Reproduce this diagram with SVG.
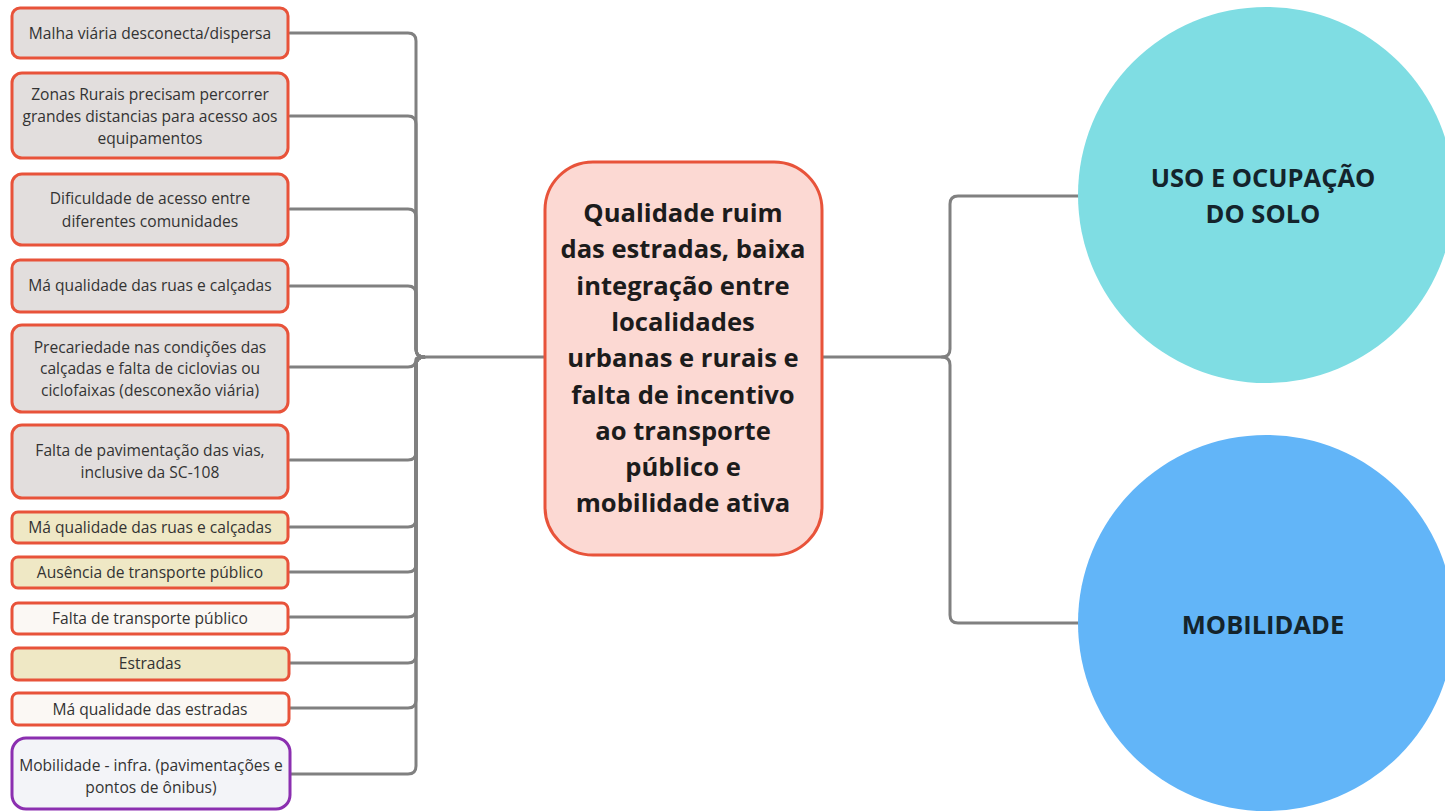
<svg xmlns="http://www.w3.org/2000/svg" width="1445" height="811" viewBox="0 0 1445 811">
<style>
.bx{stroke:#e8533a;stroke-width:3}
.g{fill:#e2dedd}
.y{fill:#efe8c5}
.w{fill:#fbf8f4}
.p{fill:#f3f4f8;stroke:#8b2fb0;stroke-width:3}
.t{font-family:"Open Sans","Liberation Sans",sans-serif;font-size:15.6px;fill:#333;text-anchor:middle}
.ct{font-family:"Open Sans","Liberation Sans",sans-serif;font-size:25.6px;font-weight:bold;fill:#1c1c1c;text-anchor:middle}
.ci{font-family:"Open Sans","Liberation Sans",sans-serif;font-size:25.5px;font-weight:bold;fill:#14242c;text-anchor:middle}
.c{fill:none;stroke:#808080;stroke-width:3;stroke-linecap:round;stroke-linejoin:round}
</style>
<rect width="1445" height="811" fill="#ffffff"/>
<g id="connectors">
<path class="c" d="M290 33H408Q416 33 416 41V349Q416 357 424 357H545"/>
<path class="c" d="M290 116H408Q416 116 416 124V349Q416 357 424 357"/>
<path class="c" d="M290 209H408Q416 209 416 217V349Q416 357 424 357"/>
<path class="c" d="M290 286H408Q416 286 416 294V349Q416 357 424 357"/>
<path class="c" d="M290 367H408Q416 367 416 359Q416 357 424 357"/>
<path class="c" d="M290 460H408Q416 460 416 452V365Q416 357 424 357"/>
<path class="c" d="M290 527H408Q416 527 416 519V365Q416 357 424 357"/>
<path class="c" d="M290 572H408Q416 572 416 564V365Q416 357 424 357"/>
<path class="c" d="M290 617H408Q416 617 416 609V365Q416 357 424 357"/>
<path class="c" d="M290 663H408Q416 663 416 655V365Q416 357 424 357"/>
<path class="c" d="M290 708H408Q416 708 416 700V365Q416 357 424 357"/>
<path class="c" d="M290 774H408Q416 774 416 766V365Q416 357 424 357"/>
<path class="c" d="M822 357H942Q950 357 950 349V204Q950 196 958 196H1078"/>
<path class="c" d="M942 357Q950 357 950 365V615Q950 623 958 623H1078"/>
</g>
<g id="n1"><rect class="bx g" x="12" y="8" width="276" height="50" rx="8"/><text class="t" x="150" y="38.5">Malha viária desconecta/dispersa</text></g>
<g id="n2"><rect class="bx g" x="12" y="73" width="276" height="85" rx="10"/><text class="t" x="150" y="99.5">Zonas Rurais precisam percorrer</text><text class="t" x="150" y="121.5">grandes distancias para acesso aos</text><text class="t" x="150" y="143.5">equipamentos</text></g>
<g id="n3"><rect class="bx g" x="12" y="174" width="276" height="71" rx="10"/><text class="t" x="150" y="203.5">Dificuldade de acesso entre</text><text class="t" x="150" y="226.5">diferentes comunidades</text></g>
<g id="n4"><rect class="bx g" x="12" y="260" width="276" height="52" rx="8"/><text class="t" x="150" y="291">Má qualidade das ruas e calçadas</text></g>
<g id="n5"><rect class="bx g" x="12" y="325" width="276" height="87" rx="10"/><text class="t" x="150" y="352.5">Precariedade nas condições das</text><text class="t" x="150" y="374">calçadas e falta de ciclovias ou</text><text class="t" x="150" y="395.5">ciclofaixas (desconexão viária)</text></g>
<g id="n6"><rect class="bx g" x="12" y="425" width="276" height="73" rx="10"/><text class="t" x="150" y="455.5">Falta de pavimentação das vias,</text><text class="t" x="150" y="477.5">inclusive da SC-108</text></g>
<g id="n7"><rect class="bx y" x="12" y="512" width="276" height="31" rx="6"/><text class="t" x="150" y="532.5">Má qualidade das ruas e calçadas</text></g>
<g id="n8"><rect class="bx y" x="12" y="557" width="276" height="31" rx="6"/><text class="t" x="150" y="578">Ausência de transporte público</text></g>
<g id="n9"><rect class="bx w" x="12" y="603" width="276" height="31" rx="6"/><text class="t" x="150" y="623.5">Falta de transporte público</text></g>
<g id="n10"><rect class="bx y" x="12" y="648" width="277" height="32" rx="6"/><text class="t" x="150" y="669">Estradas</text></g>
<g id="n11"><rect class="bx w" x="12" y="693" width="277" height="32" rx="6"/><text class="t" x="150" y="714.5">Má qualidade das estradas</text></g>
<g id="n12"><rect class="p" x="12" y="738" width="278" height="71" rx="14"/><text class="t" x="151" y="770.5">Mobilidade - infra. (pavimentações e</text><text class="t" x="151" y="792.5">pontos de ônibus)</text></g>
<g id="center"><rect x="545" y="162" width="277" height="393" rx="48" fill="#fcd9d3" stroke="#e8533a" stroke-width="3"/>
<text class="ct"><tspan x="683" y="222">Qualidade ruim</tspan><tspan x="683" y="258">das estradas, baixa</tspan><tspan x="683" y="295">integração entre</tspan><tspan x="683" y="331">localidades</tspan><tspan x="683" y="367">urbanas e rurais e</tspan><tspan x="683" y="404">falta de incentivo</tspan><tspan x="683" y="440">ao transporte</tspan><tspan x="683" y="476">público e</tspan><tspan x="683" y="512">mobilidade ativa</tspan></text></g>
<g id="uso"><circle cx="1266" cy="195" r="188" fill="#7fdde3"/><text class="ci" x="1263" y="187">USO E OCUPAÇÃO</text><text class="ci" x="1263" y="223">DO SOLO</text></g>
<g id="mob"><circle cx="1266" cy="623" r="188" fill="#62b5f8"/><text class="ci" x="1263" y="634">MOBILIDADE</text></g>
</svg>
